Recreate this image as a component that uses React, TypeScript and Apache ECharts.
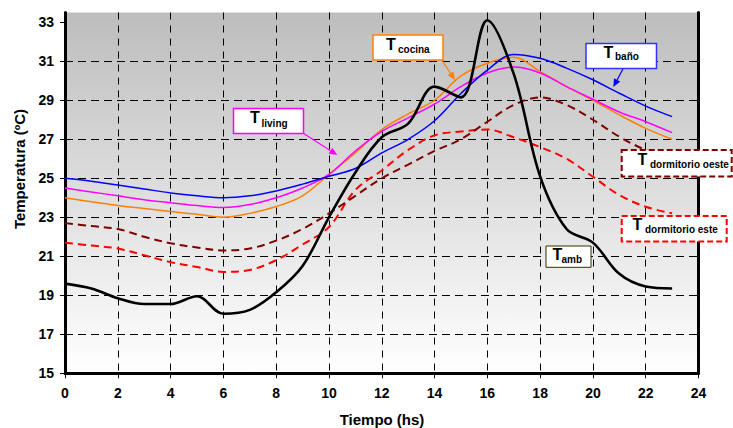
import React, { useEffect, useRef } from "react";
import * as echarts from "echarts";

const hours = [0, 1, 2, 3, 4, 5, 6, 7, 8, 9, 10, 11, 12, 13, 14, 15, 16, 17, 18, 19, 20, 21, 22, 23];

const tAmb = [19.6, 19.35, 18.85, 18.55, 18.55, 18.95, 18.05, 18.25, 19.15, 20.5, 23.0, 25.3, 27.1, 27.8, 29.7, 29.15, 33.1, 30.35, 25.1, 22.4, 21.7, 20.1, 19.45, 19.35];
const tBano = [25.0, 24.85, 24.65, 24.45, 24.25, 24.1, 24.0, 24.1, 24.35, 24.7, 25.1, 25.5, 26.3, 27.0, 27.95, 29.35, 30.55, 31.35, 31.15, 30.65, 30.05, 29.36, 28.7, 28.16];
const tLiving = [24.5, 24.3, 24.1, 23.9, 23.75, 23.6, 23.5, 23.65, 24.0, 24.5, 25.2, 26.4, 27.4, 28.1, 28.8, 29.7, 30.4, 30.7, 30.4, 29.7, 29.05, 28.4, 27.9, 27.34];
const tCocina = [24.0, 23.8, 23.6, 23.45, 23.3, 23.15, 23.0, 23.2, 23.55, 24.1, 25.2, 26.3, 27.5, 28.3, 29.0, 30.25, 30.9, 31.2, 30.47, 29.7, 29.0, 28.25, 27.56, 27.0];
const tDormOeste = [22.7, 22.55, 22.4, 22.0, 21.67, 21.45, 21.3, 21.4, 21.8, 22.4, 23.2, 24.1, 25.0, 25.7, 26.4, 27.0, 27.9, 28.76, 29.15, 28.76, 28.0, 27.13, 26.45, 26.0];
const tDormEste = [21.7, 21.55, 21.4, 21.05, 20.7, 20.45, 20.2, 20.3, 20.8, 21.6, 22.5, 24.4, 25.4, 26.45, 27.2, 27.4, 27.5, 27.1, 26.6, 26.0, 25.08, 24.14, 23.54, 23.2];

const yTicks = [15, 17, 19, 21, 23, 25, 27, 29, 31, 33];

const FONT = "'Liberation Sans', Arial, Helvetica, sans-serif";

function pairs(vals: number[]) {
  return hours.map((h, i) => [h, vals[i]]);
}

function arrow(x1: number, y1: number, x2: number, y2: number, color: string) {
  const dx = x2 - x1;
  const dy = y2 - y1;
  const len = Math.sqrt(dx * dx + dy * dy);
  const ux = dx / len;
  const uy = dy / len;
  const hl = 8;
  const hw = 3.5;
  const bx = x2 - ux * hl;
  const by = y2 - uy * hl;
  return [
    {
      type: "line",
      z: 10,
      shape: { x1, y1, x2: bx, y2: by },
      style: { stroke: color, lineWidth: 1.2 },
    },
    {
      type: "polygon",
      z: 10,
      shape: {
        points: [
          [x2, y2],
          [bx - uy * hw, by + ux * hw],
          [bx + uy * hw, by - ux * hw],
        ],
      },
      style: { fill: color },
    },
  ];
}

function label(
  box: [number, number, number, number],
  stroke: string,
  lineWidth: number,
  dashed: boolean,
  tX: number,
  tBase: number,
  sub: string,
  sX: number,
  sBase: number
) {
  return [
    {
      type: "rect",
      z: 10,
      shape: { x: box[0], y: box[1], width: box[2], height: box[3] },
      style: {
        fill: "#ffffff",
        stroke,
        lineWidth,
        lineDash: dashed ? [6, 3] : null,
      },
    },
    {
      type: "text",
      z: 11,
      x: tX,
      y: tBase,
      style: {
        text: "T",
        fill: "#000",
        font: `bold 16px ${FONT}`,
        verticalAlign: "bottom",
      },
    },
    {
      type: "text",
      z: 11,
      x: sX,
      y: sBase,
      style: {
        text: sub,
        fill: "#000",
        font: `bold 10px ${FONT}`,
        verticalAlign: "bottom",
      },
    },
  ];
}

export default function App() {
  const ref = useRef<HTMLDivElement>(null);
  useEffect(() => {
    document.body.style.margin = "0";
    if (!ref.current) return;
    const chart = echarts.init(ref.current, null, { renderer: "svg" });
    const lineBase = { type: "line", showSymbol: false, symbol: "none", smooth: 0.35, z: 3 };
    const option: any = {
      animation: false,
      textStyle: { fontFamily: FONT },
      grid: {
        left: 65,
        right: 34.5,
        top: 12.5,
        bottom: 54.7,
        show: true,
        borderWidth: 0,
        backgroundColor: new echarts.graphic.LinearGradient(0, 0, 0, 1, [
          { offset: 0, color: "#bdbdbd" },
          { offset: 1, color: "#ffffff" },
        ]),
      },
      xAxis: {
        type: "value",
        min: 0,
        max: 24,
        interval: 2,
        axisLine: { show: true, onZero: false, lineStyle: { color: "#000", width: 3 } },
        axisTick: { show: true, length: 5, lineStyle: { color: "#000", width: 1 } },
        axisLabel: {
          color: "#000",
          fontWeight: "bold",
          fontSize: 14,
          fontFamily: FONT,
          margin: 13,
        },
        splitLine: {
          show: true,
          showMinLine: false,
          showMaxLine: false,
          lineStyle: { color: "#000", width: 1, type: [7, 6] },
        },
      },
      yAxis: [
        {
          type: "value",
          min: 15,
          max: 33.5,
          interval: 2,
          axisLine: { show: true, lineStyle: { color: "#000", width: 3 } },
          axisTick: { show: true, length: 5, customValues: yTicks, lineStyle: { color: "#000", width: 1 } },
          axisLabel: {
            color: "#000",
            fontWeight: "bold",
            fontSize: 14,
            fontFamily: FONT,
            margin: 11,
            customValues: yTicks,
            formatter: (v: number) => (v > 33.2 ? "" : String(v)),
          },
          splitLine: {
            show: true,
            showMinLine: false,
            showMaxLine: false,
            lineStyle: { color: "#000", width: 1, type: [8, 5] },
          },
        },
        {
          type: "value",
          position: "right",
          min: 15,
          max: 33.5,
          interval: 2,
          axisLine: { show: true, lineStyle: { color: "#000", width: 3 } },
          axisTick: { show: false },
          axisLabel: { show: false },
          splitLine: { show: false },
        },
      ],
      series: [
        { ...lineBase, name: "T dormitorio este", data: pairs(tDormEste), lineStyle: { color: "#ff0000", width: 2, type: [8, 5] } },
        { ...lineBase, name: "T dormitorio oeste", data: pairs(tDormOeste), lineStyle: { color: "#800000", width: 2, type: [8, 5] } },
        { ...lineBase, name: "T cocina", data: pairs(tCocina), lineStyle: { color: "#ff7f00", width: 1.5 } },
        { ...lineBase, name: "T living", data: pairs(tLiving), lineStyle: { color: "#ff00ff", width: 1.5 } },
        { ...lineBase, name: "T baño", data: pairs(tBano), lineStyle: { color: "#0000ff", width: 1.5 } },
        { ...lineBase, name: "T amb", data: pairs(tAmb), lineStyle: { color: "#000000", width: 2.6 } },
      ],
      graphic: [
        {
          type: "text",
          x: 19,
          y: 169,
          rotation: Math.PI / 2,
          style: {
            text: "Temperatura (ºC)",
            fill: "#000",
            font: `bold 15px ${FONT}`,
            align: "center",
            verticalAlign: "middle",
          },
        },
        {
          type: "text",
          x: 382,
          y: 419,
          style: {
            text: "Tiempo (hs)",
            fill: "#000",
            font: `bold 15px ${FONT}`,
            align: "center",
            verticalAlign: "middle",
          },
        },
        ...arrow(441.7, 60, 455, 80, "#ff8000"),
        ...arrow(623.3, 68.3, 613.3, 87, "#0000ff"),
        ...arrow(303.3, 133.3, 337.3, 155, "#ff00ff"),
        ...label([373, 35, 70, 25], "#ff8000", 1.5, false, 386, 52.5, "cocina", 398, 54),
        ...label([586, 43.5, 70.5, 25], "#3333ff", 1.5, false, 603.5, 60, "baño", 615, 61.5),
        ...label([233.5, 108.5, 70, 25], "#ff00ff", 1.5, false, 250, 125, "living", 261.5, 128),
        ...label([621.7, 150, 110, 26.5], "#800000", 2, true, 637.5, 167.5, "dormitorio oeste", 650, 169.5),
        ...label([621.7, 216, 105, 25.5], "#ff0000", 2, true, 632.5, 232.5, "dormitorio este", 645, 234),
        ...label([546, 246, 45, 21.3], "#333300", 1, false, 552.5, 262, "amb", 561.5, 264.5),
      ],
    };
    chart.setOption(option);
    return () => chart.dispose();
  }, []);
  return <div ref={ref} style={{ width: 733, height: 428 }} />;
}
